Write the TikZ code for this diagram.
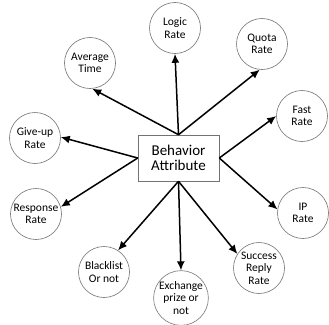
\documentclass[tikz,border=0pt]{standalone}
\usepackage{fontspec}
\setmainfont{Carlito}
\usetikzlibrary{arrows.meta}
\begin{document}
\begin{tikzpicture}[x=1pt,y=-1pt,
  attr/.style={draw=black!55,line width=0.6pt,circle,minimum size=51pt,inner sep=0pt,align=center,font=\fontsize{11.5}{12.5}\selectfont},
  mainbox/.style={draw=black!55,line width=0.6pt,minimum width=81pt,minimum height=46pt,inner sep=0pt,align=center,font=\fontsize{15}{14.5}\selectfont},
  link/.style={line width=1.5pt,-{Latex[length=9pt,width=8pt]}}]
\useasboundingbox (0,0) rectangle (329,324);
\node[mainbox] (box) at (178.5,158) {Behavior\\Attribute};
\node[attr] (logic) at (175,28) {Logic\\Rate};
\node[attr] (quota) at (262,44) {Quota\\Rate};
\node[attr] (avg) at (90,63) {Average\\Time};
\node[attr] (fast) at (302,116) {Fast\\Rate};
\node[attr] (give) at (35,138) {Give-up\\Rate};
\node[attr] (resp) at (36,214) {Response\\Rate};
\node[attr] (ip) at (303,213) {IP\\Rate};
\node[attr] (black) at (104,272) {Blacklist\\Or not};
\node[attr] (exch) at (181,298) {Exchange\\prize or\\not};
\node[attr] (succ) at (259,268) {Success\\Reply\\Rate};
\draw[link] (box.north) -- (logic.south);
\draw[link] (box.north) -- (avg.-85);
\draw[link] (box.north) -- (quota.-95);
\draw[link] (box.east) -- (fast.180);
\draw[link] (box.east) -- (ip.172);
\draw[link] (box.west) -- (give.2);
\draw[link] (box.west) -- (resp.16);
\draw[link] (box.south) -- (black.57);
\draw[link] (box.south) -- (exch.north);
\draw[link] (box.south) -- (succ.147);
\end{tikzpicture}
\end{document}
